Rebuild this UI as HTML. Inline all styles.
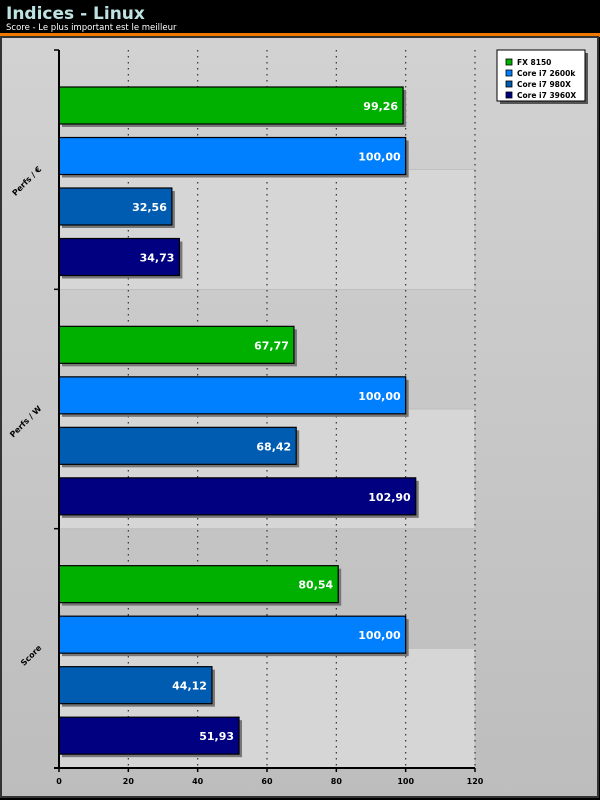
<!DOCTYPE html>
<html><head><meta charset="utf-8"><style>
body{margin:0;width:600px;height:800px;overflow:hidden;font-family:"DejaVu Sans","Liberation Sans",sans-serif;}
</style></head><body>
<svg width="600" height="800" xmlns="http://www.w3.org/2000/svg">
<defs>
<linearGradient id="bg" x1="0" y1="0" x2="0" y2="1"><stop offset="0" stop-color="#d2d2d2"/><stop offset="1" stop-color="#bdbdbd"/></linearGradient>
</defs>
<rect x="0" y="0" width="600" height="800" fill="#000"/>
<text x="6" y="19" font-size="17" font-weight="bold" fill="#bfe3e3">Indices - Linux</text>
<text x="6" y="30" font-size="8.5" fill="#fff">Score - Le plus important est le meilleur</text>
<rect x="0" y="33" width="600" height="4" fill="#f07800"/>
<rect x="1" y="37" width="597" height="760" fill="url(#bg)" stroke="#333" stroke-width="2"/>
<g id="plot"></g>
<g>
<rect x="498" y="51" width="88" height="51" fill="#555" transform="translate(2,2)"/>
<rect x="497" y="50" width="88" height="51" fill="#fff" stroke="#000"/>
<g id="legend"></g>
</g>
</svg>
<script>
const categories=["Perfs / €","Perfs / W","Score"];
const seriesNames=["FX 8150","Core i7 2600k","Core i7 980X","Core i7 3960X"];
const fx8150=[99.26,67.77,80.54];
const i7_2600k=[100.00,100.00,100.00];
const i7_980x=[32.56,68.42,44.12];
const i7_3960x=[34.73,102.90,51.93];
const ticks=[0,20,40,60,80,100,120];
const series=[fx8150,i7_2600k,i7_980x,i7_3960x];
const colors=["#00b000","#0080ff","#005cb0","#000080"];
const NS="http://www.w3.org/2000/svg";
const X0=59,X1=475,Y0=50,Y1=768;
const xs=v=>X0+(v-ticks[0])/(ticks[ticks.length-1]-ticks[0])*(X1-X0);
const groupH=(Y1-Y0)/categories.length;
const plot=document.getElementById('plot');
function mk(t,a,p){const e=document.createElementNS(NS,t);for(const k in a)e.setAttribute(k,a[k]);(p||plot).appendChild(e);return e;}
// alternating bands
for(let i=0;i<categories.length*2;i++){
  if(i%2==1){const r=mk('rect',{x:X0,y:Y0+i*groupH/2,width:X1-X0,height:groupH/2,fill:'#d6d6d6',stroke:'#b0b0b0','stroke-width':0.5});
  
  }
}
// grid
ticks.forEach((t,i)=>{
  if(i>0){const l=mk('line',{x1:xs(t),x2:xs(t),y1:Y0,y2:Y1,stroke:'#333','stroke-dasharray':'1.5,4.5','stroke-width':1.2});
  
  }
  const tk=mk('line',{x1:xs(t),x2:xs(t),y1:Y1,y2:Y1+4,stroke:'#000','stroke-width':1.5});
  
  
  const tx=mk('text',{x:xs(t),y:Y1+16,'font-size':8,'font-weight':'bold','text-anchor':'middle',fill:'#000'});
  tx.textContent=t;
  
  
});
// bars
categories.forEach((c,ci)=>{
  const gy=Y0+ci*groupH;
  series.forEach((s,si)=>{
    const y=gy+37+si*50.5, w=xs(s[ci])-X0;
    mk('rect',{x:X0+3,y:y+3,width:w,height:37,fill:'#777'});
    const r=mk('rect',{x:X0,y:y,width:w,height:37,fill:colors[si],stroke:'#000','stroke-width':1.2});
    
    
    const t=mk('text',{x:X0+w-5,y:y+23,'font-size':11,'font-weight':'bold','text-anchor':'end',fill:'#fff'});
    t.textContent=s[ci].toFixed(2).replace('.',',');
    
    
  });
  const cy=gy+groupH/2;
  const ct=mk('text',{x:42,y:cy,'font-size':8,'font-weight':'bold','text-anchor':'end',fill:'#000',transform:`rotate(-45 42 ${cy})`});
  ct.textContent=c;
  
  
  const ck=mk('line',{x1:X0-5,x2:X0,y1:gy,y2:gy,stroke:'#000','stroke-width':1.5});
  
  
});
const ya=mk('line',{x1:X0,x2:X0,y1:Y0,y2:Y1,stroke:'#000','stroke-width':2});


const xa=mk('line',{x1:X0-5,x2:X1,y1:Y1,y2:Y1,stroke:'#000','stroke-width':2});


const lg=document.getElementById('legend');
seriesNames.forEach((n,i)=>{
  const y=59+i*11;
  const r=mk('rect',{x:506,y:y,width:6,height:6,fill:colors[i],stroke:'#000','stroke-width':0.8},lg);
  
  
  const t=mk('text',{x:517,y:y+6,'font-size':7.5,'font-weight':'bold',fill:'#000'},lg);
  t.textContent=n;
  
  
});
</script>
</body></html>
